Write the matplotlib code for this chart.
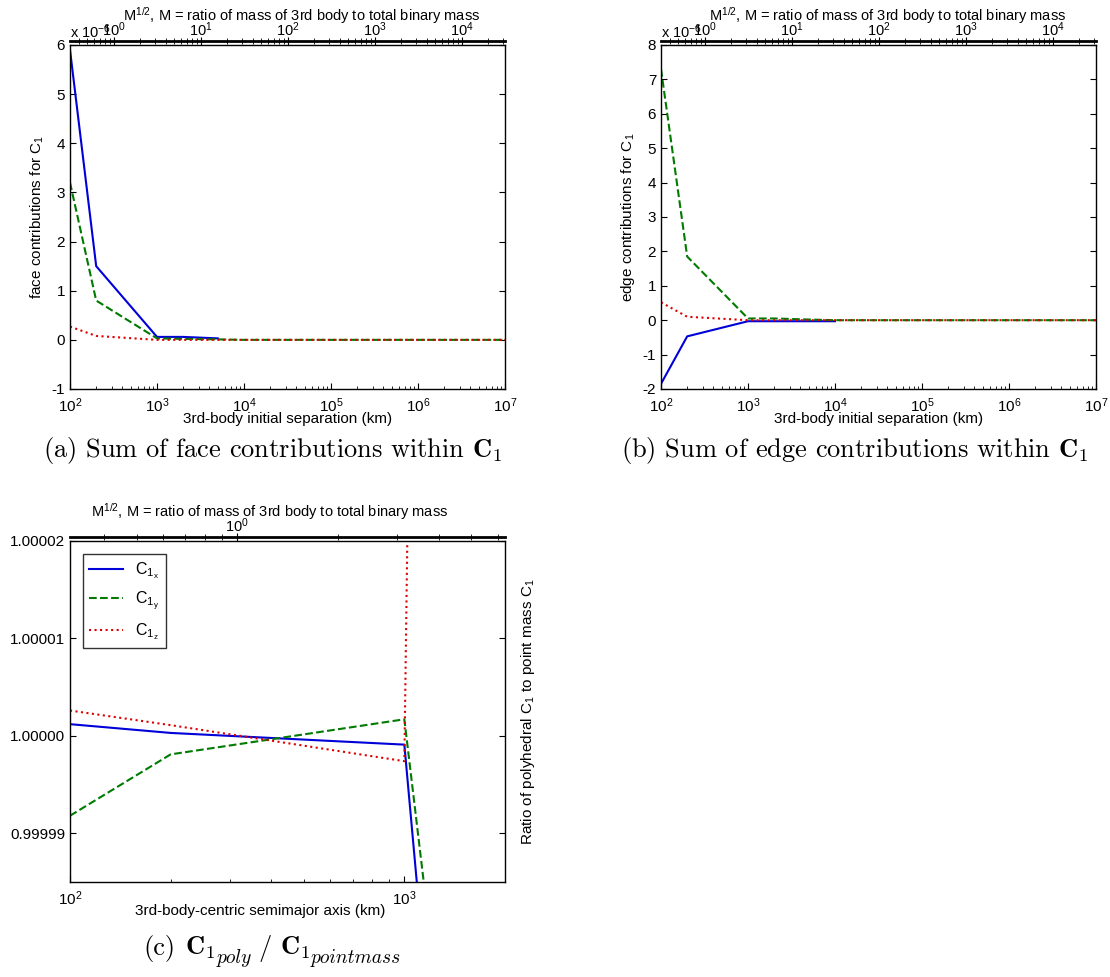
import matplotlib
matplotlib.use("Agg")
import matplotlib.pyplot as plt
import matplotlib.ticker as mticker

plt.rcParams['font.family'] = ['Liberation Sans', 'DejaVu Sans']
plt.rcParams['mathtext.fontset'] = 'custom'
plt.rcParams['mathtext.rm'] = 'Liberation Sans'
plt.rcParams['mathtext.it'] = 'Liberation Sans:italic'
plt.rcParams['mathtext.bf'] = 'Liberation Sans:bold'
plt.rcParams['axes.unicode_minus'] = False
plt.rcParams['font.size'] = 11

# ---------------- data ----------------
# panel (a): face contributions (units of 1e-6)
sep_a = [1e2, 2e2, 1e3, 2e3, 5e3, 1e4, 1e5, 1e6, 1e7]
face_x = [5.9, 1.5, 0.06, 0.06, 0.03]
face_y = [3.2, 0.8, 0.03, 0.02, 0.01, 0.0, 0.0, 0.0, 0.0]
face_z = [0.27, 0.08, 0.0, 0.0, 0.0, 0.0, 0.0, 0.0, 0.0]

# panel (b): edge contributions (units of 1e-6)
sep_b = [1e2, 2e2, 1e3, 2e3, 5e3, 1e4, 1e5, 1e6, 1e7]
edge_x = [-1.85, -0.47, -0.03, -0.03, -0.03, -0.03]
edge_y = [7.3, 1.85, 0.05, 0.05, 0.02, 0.0, 0.0, 0.0, 0.0]
edge_z = [0.52, 0.1, 0.0, 0.0, 0.0, 0.0, 0.0, 0.0, 0.0]

# panel (c): ratio of polyhedral C1 to point mass C1
sma_c = [100, 200, 1000, 2000]
ratio_x = [1.0000012, 1.0000003, 0.9999991, 0.999885]
ratio_y = [0.9999918, 0.9999981, 1.0000017, 0.999915]
ratio_z = [1.0000026, 1.0000011, 0.9999974, 1.00077]

legend_labels = [r'$\mathregular{C_{1_x}}$', r'$\mathregular{C_{1_y}}$', r'$\mathregular{C_{1_z}}$']
top_label = r'M$^{1/2}$, M = ratio of mass of 3rd body to total binary mass'

# ---------------- styling helpers ----------------
W, H = 1110, 977
fig = plt.figure(figsize=(W / 100, H / 100), dpi=100)


def px_axes(left, top, right, bottom):
    return fig.add_axes([left / W, 1 - bottom / H, (right - left) / W, (bottom - top) / H])


styles = [dict(color='#0000d8', ls='-', lw=1.5),
          dict(color='#007a00', ls='--', lw=1.5),
          dict(color='#e00000', ls=':', lw=1.5)]


def style_main(ax):
    ax.tick_params(which='both', direction='in', top=True, right=True, labelsize=11)
    ax.tick_params(axis='x', pad=5)
    ax.tick_params(which='major', length=4)
    ax.tick_params(which='minor', length=2.5)
    for s in ax.spines.values():
        s.set_linewidth(1.0)


def add_top(ax, lim, label_x, label_y):
    ax2 = ax.twiny()
    ax2.set_xscale('log')
    ax2.set_xlim(*lim)
    for k in ['left', 'right', 'bottom']:
        ax2.spines[k].set_visible(False)
    ax2.spines['top'].set_position(('outward', 3))
    ax2.spines['top'].set_linewidth(2.0)
    ax2.tick_params(which='both', direction='inout', labelsize=10.5, pad=-2)
    ax2.tick_params(which='major', length=6)
    ax2.tick_params(which='minor', length=4)
    ax2.set_xlabel(top_label, fontsize=10.5)
    ax2.xaxis.set_label_coords(label_x, label_y)
    ax2.xaxis.label.set_va('baseline')
    return ax2


# ---------------- panel (a) ----------------
axa = px_axes(70, 45, 505, 389)
axa.plot(sep_a[:len(face_x)], face_x, **styles[0])
axa.plot(sep_a, face_y, **styles[1])
axa.plot(sep_a, face_z, **styles[2])
axa.set_xscale('log')
axa.set_xlim(1e2, 1e7)
axa.set_ylim(-1, 6)
axa.set_yticks(range(-1, 7))
style_main(axa)
axa.set_xlabel('3rd-body initial separation (km)', labelpad=-2)
axa.set_ylabel(r'face contributions for C$_1$', labelpad=4)
add_top(axa, (10 ** -0.5, 10 ** 4.5), 0.533, 1.070)
axa.text(0.0, 1.012, r'x 10$^{-6}$', transform=axa.transAxes, fontsize=10.5, ha='left', va='bottom')

# ---------------- panel (b) ----------------
axb = px_axes(661, 45, 1096, 389)
axb.plot(sep_b[:len(edge_x)], edge_x, **styles[0])
axb.plot(sep_b, edge_y, **styles[1])
axb.plot(sep_b, edge_z, **styles[2])
axb.set_xscale('log')
axb.set_xlim(1e2, 1e7)
axb.set_ylim(-2, 8)
axb.set_yticks(range(-2, 9))
style_main(axb)
axb.set_xlabel('3rd-body initial separation (km)', labelpad=-2)
axb.set_ylabel(r'edge contributions for C$_1$', labelpad=4)
add_top(axb, (10 ** -0.5, 10 ** 4.5), 0.522, 1.070)
axb.text(0.0, 1.012, r'x 10$^{-6}$', transform=axb.transAxes, fontsize=10.5, ha='left', va='bottom')

# ---------------- panel (c) ----------------
axc = px_axes(70, 541, 505, 882)
for vals, st, lab in zip([ratio_x, ratio_y, ratio_z], styles, legend_labels):
    axc.plot(sma_c, vals, label=lab, **st)
axc.set_xscale('log')
axc.set_xlim(100, 2000)
axc.set_ylim(0.999985, 1.00002)
axc.set_yticks([0.99999, 1.0, 1.00001, 1.00002])
axc.yaxis.set_major_formatter(mticker.FormatStrFormatter('%.5f'))
style_main(axc)
axc.set_xlabel('3rd-body-centric semimajor axis (km)')
axc.xaxis.set_label_coords(0.437, -0.065)
axc.yaxis.set_label_position('right')
axc.set_ylabel(r'Ratio of polyhedral C$_1$ to point mass C$_1$', labelpad=10)
leg = axc.legend(loc='upper left', fontsize=11.5, frameon=True, fancybox=False,
                 edgecolor='black', handlelength=2.1, borderaxespad=0.8, labelspacing=0.55)
leg.get_frame().set_linewidth(1.0)
add_top(axc, (10 ** -0.5, 10 ** 0.8), 0.46, 1.070)

# ---------------- captions ----------------
cap_kw = dict(fontsize=19, family='cmr10', math_fontfamily='cm', ha='center', va='center')
fig.text(273 / W, 1 - 450 / H, r'(a) Sum of face contributions within $\mathbf{C}_1$', **cap_kw)
fig.text(855 / W, 1 - 450 / H, r'(b) Sum of edge contributions within $\mathbf{C}_1$', **cap_kw)

renderer = fig.canvas.get_renderer()
base_y = 955


def piece(s, x, dy, size, family):
    t = fig.text(x / W, 1 - (base_y + dy) / H, s, fontsize=size, family=family,
                 math_fontfamily='cm', ha='left', va='baseline')
    return t.get_window_extent(renderer).x1


x = 143
x = piece('(c)', x, 0, 19, 'cmr10') + 10
x = piece(r'$\mathbf{C}_1$', x, 0, 19, 'cmr10') + 1
x = piece('poly', x, 8, 14, 'cmmi10') + 8
x = piece('/', x, 0, 19, 'cmr10') + 8
x = piece(r'$\mathbf{C}_1$', x, 0, 19, 'cmr10') + 1
x = piece('pointmass', x, 8, 14, 'cmmi10')

fig.savefig('out.png', dpi=100)
